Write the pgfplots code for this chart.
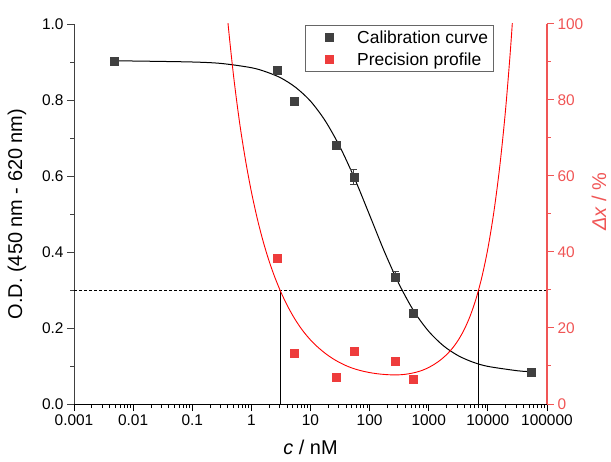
\documentclass[border=0pt]{standalone}
\usepackage{fontspec}
\setmainfont{Liberation Sans}
\usepackage{pgfplots}
\pgfplotsset{compat=1.18}
\definecolor{calgray}{RGB}{64,64,64}
\definecolor{precred}{RGB}{238,60,60}
\definecolor{axred}{RGB}{240,85,85}
\definecolor{curvered}{RGB}{255,0,0}
\begin{document}
\begin{tikzpicture}
\begin{axis}[name=ax,
  width=473bp, height=380bp, scale only axis,
  xmode=log, xmin=0.001, xmax=100000,
  tick align=outside,
  major tick length=7bp, minor tick length=4bp,
  tick label style={font=\fontsize{15.5}{18}\selectfont},
  label style={font=\fontsize{20}{24}\selectfont},
  /pgf/number format/assume math mode=true,
  axis x line*=bottom, axis y line*=left,
  ymin=0, ymax=1,
  ytick={0,0.2,0.4,0.6,0.8,1.0}, minor y tick num=1,
  yticklabel style={/pgf/number format/.cd, fixed, fixed zerofill, precision=1},
  xtick={0.001,0.01,0.1,1,10,100,1000,10000,100000},
  xticklabels={0.001,0.01,0.1,1,10,100,1000,10000,100000},
  x axis line style={black, line width=0.9bp},
  y axis line style={black!75, line width=0.9bp},
  xtick style={black, line width=0.8bp},
  ytick style={black!75, line width=0.8bp},
  xlabel={\textit{c} / nM},
  ylabel={O.D. (450 nm - 620 nm)},
  xlabel style={at={(axis description cs:0.5,-0.113)}, anchor=center},
  ylabel style={at={(axis description cs:-0.1205,0.5)}, anchor=center},
]
\addplot[black, line width=0.8bp, dash pattern=on 3bp off 2bp] coordinates {(0.001,0.3) (100000,0.3)};
\addplot[black, line width=0.8bp] coordinates {(3.05,0) (3.05,0.3)};
\addplot[black, line width=0.8bp] coordinates {(6900,0) (6900,0.3)};
\addplot[black, line width=1.0bp, smooth] coordinates {
(0.0047,0.903) (0.01,0.9026) (0.1,0.900) (0.3162,0.896) (1,0.885) (1.778,0.874)
(3.162,0.858) (5.623,0.833) (10,0.797) (17.78,0.745) (31.62,0.676) (56.23,0.592)
(100,0.497) (177.8,0.401) (316.2,0.315) (562.3,0.244) (1000,0.191) (1778,0.153)
(3162,0.127) (5623,0.110) (10000,0.099) (31623,0.0875) (54000,0.085)
};
\addplot[only marks, mark=square*, mark size=4bp, mark options={calgray, fill=calgray},
  error bars/.cd, y dir=both, y explicit,
  error bar style={calgray, line width=0.7bp},
  error mark options={calgray, line width=0.7bp, mark size=3.5bp, rotate=90}]
  table[x=x, y=y, y error=e] {
x y e
0.0047 0.903 0.004
2.7 0.879 0.010
5.4 0.797 0.005
27 0.682 0.006
54 0.598 0.020
270 0.335 0.013
540 0.240 0.006
54000 0.084 0.005
};
\end{axis}
\begin{axis}[
  width=473bp, height=380bp, scale only axis,
  xmode=log, xmin=0.001, xmax=100000,
  tick align=outside,
  major tick length=7bp, minor tick length=4bp,
  tick label style={font=\fontsize{15.5}{18}\selectfont},
  label style={font=\fontsize{20}{24}\selectfont},
  /pgf/number format/assume math mode=true,
  axis y line*=right, axis x line=none,
  ymin=0, ymax=100,
  ytick={0,20,40,60,80,100}, minor y tick num=1,
  y axis line style={axred, line width=1.2bp},
  ytick style={axred, line width=1bp},
  yticklabel style={axred},
  ylabel={\textit{Δx} / \%},
  ylabel style={axred, at={(axis description cs:1.110,0.532)}, anchor=center},
  legend image code/.code={\path (0bp,0bp) (47bp,0bp); \draw[#1] plot coordinates {(21bp,0bp)};},
  legend style={at={(axis description cs:0.488,0.997)}, anchor=north west,
    draw=black!60, line width=0.8bp, font=\fontsize{17.5}{21}\selectfont,
    inner xsep=3bp, inner ysep=3bp, row sep=4bp, cells={anchor=west}},
]
\addlegendimage{draw=none, mark=square*, mark size=4bp, mark options={calgray, fill=calgray}}
\addlegendentry{Calibration curve}
\addplot[curvered, line width=0.9bp, smooth, forget plot] coordinates {
(0.3162,119.2) (0.3981,100.97) (0.5012,86.18) (0.6310,74.12) (0.7943,64.22)
(1,55.86) (1.2589,48.77) (1.5849,42.74) (1.9953,37.60) (2.5119,33.21)
(3.1623,29.43) (3.9811,26.14) (5.0119,23.28) (6.3096,20.80) (7.9433,18.68)
(10,16.86) (12.589,15.29) (15.849,13.94) (19.953,12.75) (25.119,11.72)
(31.623,10.85) (39.811,10.10) (50.119,9.48) (63.096,8.99) (79.433,8.59)
(100,8.27) (125.89,8.02) (158.49,7.84) (199.53,7.72) (251.19,7.66)
(316.23,7.68) (398.11,7.81) (501.19,8.06) (630.96,8.42) (794.33,8.92)
(1000,9.62) (1258.9,10.50) (1584.9,11.60) (1995.3,12.96) (2511.9,14.67)
(3162.3,16.83) (3981.1,19.60) (5011.9,23.15) (6309.6,27.70) (7943.3,33.50)
(10000,40.92) (12589,50.40) (15849,62.38) (19953,77.60) (25119,97.15) (31623,122.1)
};
\addplot[draw=none, mark=square*, mark size=4bp, mark options={precred, fill=precred}] coordinates {
(2.7,38.4) (5.4,13.4) (27,7.0) (54,13.9) (270,11.3) (540,6.6)
};
\addlegendentry{Precision profile}
\end{axis}
\pgfresetboundingbox
\path[use as bounding box] ([shift={(-74bp,-58bp)}]ax.south west) rectangle ([shift={(64bp,24bp)}]ax.north east);
\end{tikzpicture}
\end{document}
